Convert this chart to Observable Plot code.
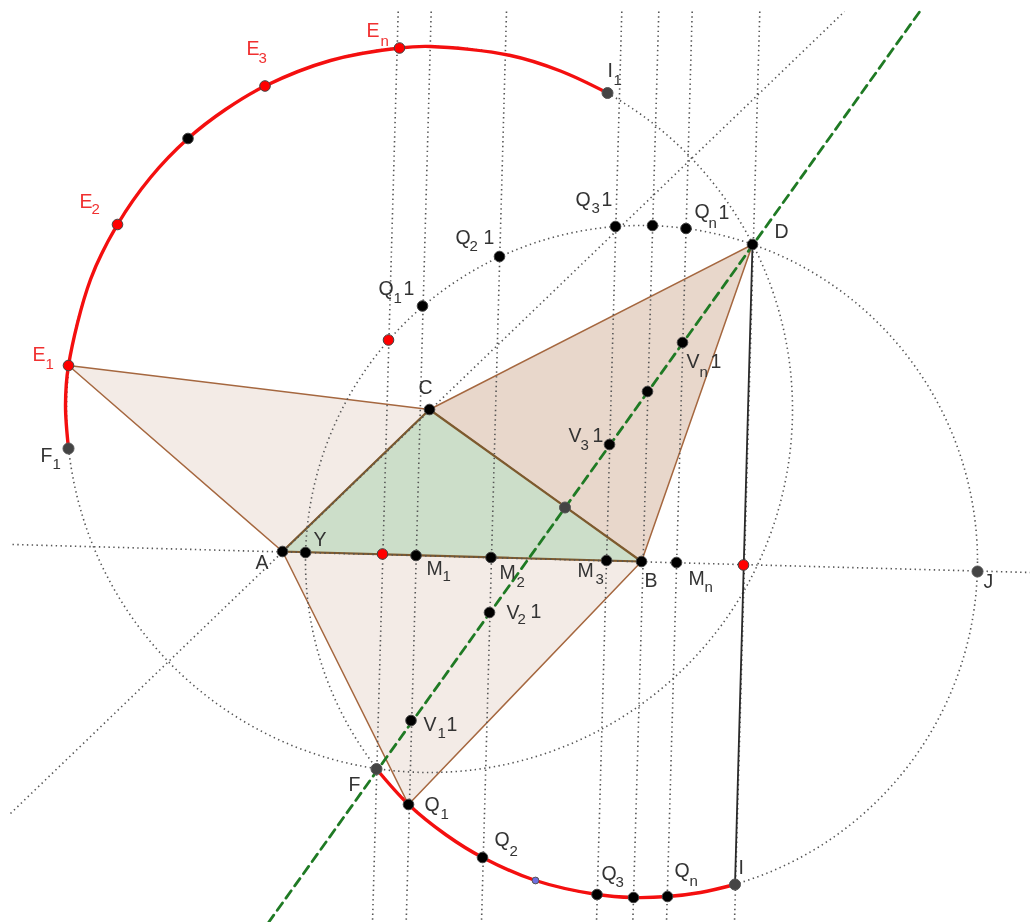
<!DOCTYPE html>
<html>
<head>
<meta charset="utf-8">
<style>html,body{margin:0;padding:0;background:#fff}svg{display:block}</style>
<script src="https://cdn.jsdelivr.net/npm/d3@7"></script>
<script src="https://cdn.jsdelivr.net/npm/@observablehq/plot@0.6"></script>
</head>
<body>
<script>
// Vertices
const triLeft = [[282,551],[429,409],[68,365],[282,551]];
const triLower = [[282,551],[641,561],[408,804],[282,551]];
const triRight = [[429,409],[752,244],[641,561],[429,409]];
const triCentre = [[282,551],[429,409],[641,561],[282,551]];

// Construction lines: [x1,y1,x2,y2]
const dottedLines = [
  [12,544,1030,572],
  [10,813,844,11],
  [397.7,11,372,922],
  [430.7,11,405.7,922],
  [506,11,481,922],
  [621.3,11,596,922],
  [658.3,11,632.3,922],
  [691.7,11,666,922],
  [759.3,11,734,922]
];
const greenLine = [[268,922],[920,10]];
const blackLine = [[752,244],[734.5,884]];

// Dotted circles: centre and radius
const circleOne = [[429,409]];
const circleOneRadius = 363;
const circleTwo = [[641,561]];
const circleTwoRadius = 336;

// Red arcs, waypoints
const upperArc = [[68,448],[65,405],[68,365],[90,279],[117,224],[150,177],[187.5,138],[225,109],[264.5,85.5],[330,60],[399,47.5],[430,46],[510,55],[560,70.5],[607,92.5]];
const lowerArc = [[376,768.5],[408,804],[445,834],[482,857],[535,880],[596.5,894],[633,897],[667,896],[700,892],[734.5,884]];

// Points
const blackPoints = [[282,551],[641,561],[429,409],[752,244],[187.5,138],[408,804],[482,857],[596.5,894],[633,897],[667,896],[415.5,555],[490.5,557],[606,560],[676,562],[305,552],[422,305.5],[499,256],[615,226],[652,225],[685.5,228],[609,444],[647,391],[682,342],[489,612],[410.5,720]];
const greyPoints = [[68,448],[607,92.5],[376,768.5],[734.5,884],[977,571],[564.5,507]];
const redPoints = [[68,365],[117,224],[264.5,85.5],[399,47.5],[382,553.5],[743,564.5],[388,339.5]];
const bluePoints = [[535,880]];

// Labels: [text, x, y]
const redMain = [["E",32,354.5],["E",79,201],["E",246,48],["E",366,30]];
const redSubs = [["1",45,364],["2",91,209],["3",258,58],["n",380,41]];
const darkMain = [
  ["Q",455,237],["1",483,237],["Q",378,288],["1",403,288],["C",418,387],["F",40,455],["I",607,70],
  ["Q",575,199],["1",601,199],["Q",694,211],["1",718,212],["D",774,231],["V",686,361],["1",710,361],
  ["V",568,435],["1",592,435],["Y",313,539],["A",255,562],["M",426,568],["M",499,572],["V",506,612],["1",530,611],
  ["V",423,724],["1",446,724],["F",348,784],["Q",424,804],["Q",494,839],["M",577,570],["B",644,580],
  ["M",688,578],["J",983,581],["Q",601,873],["Q",674,870],["I",738,867]
];
const darkSubs = [
  ["2",469,246],["1",393,298],["1",52,464],["1",613,80],["3",591,208],["n",708,223],["n",699,372],["3",580,445],
  ["1",442,576],["2",516,582],["2",517,619],["1",437,733],["1",440,814],["2",509,851],["3",595,579],["n",704,587],
  ["3",615,882],["n",689,881]
];

const brown = "#a5673f";
const xOf = d => d[0], yOf = d => d[1];
const dotted = {stroke:"#555", strokeWidth:1.6, strokeDasharray:"1.4 3.4"};
const polygon = (pts, fill, stroke, width) =>
  Plot.line(pts, {x:xOf, y:yOf, fill, stroke, strokeWidth:width, curve:"linear"});
const points = (pts, fill, stroke, r) =>
  Plot.dot(pts, {x:xOf, y:yOf, r, fill, stroke, strokeWidth:1});
const labels = (rows, fill, fontSize) =>
  Plot.text(rows, {x:d=>d[1], y:d=>d[2], text:d=>d[0], fill, fontSize, textAnchor:"start",
    fontFamily:"Liberation Sans, Arial, sans-serif"});

const chart = Plot.plot({
  width:1030, height:922, margin:0,
  x:{domain:[0,1030], range:[0,1030], axis:null},
  y:{domain:[0,922], range:[0,922], axis:null},
  style:{background:"#fff", filter:"blur(0.35px)"},
  marks:[
    polygon(triLeft, "#f3ebe6", brown, 1.5),
    polygon(triLower, "#f3ebe6", brown, 1.5),
    polygon(triRight, "#e8d7cb", brown, 1.5),
    polygon(triCentre, "#ccdec9", "#7d5a2e", 2.2),
    Plot.link(dottedLines, {x1:d=>d[0], y1:d=>d[1], x2:d=>d[2], y2:d=>d[3], ...dotted}),
    Plot.dot(circleOne, {x:xOf, y:yOf, r:circleOneRadius, fill:"none", ...dotted}),
    Plot.dot(circleTwo, {x:xOf, y:yOf, r:circleTwoRadius, fill:"none", ...dotted}),
    Plot.line(upperArc, {x:xOf, y:yOf, stroke:"#f40f0f", strokeWidth:3.4, curve:"catmull-rom"}),
    Plot.line(lowerArc, {x:xOf, y:yOf, stroke:"#f40f0f", strokeWidth:3.4, curve:"catmull-rom"}),
    Plot.line(greenLine, {x:xOf, y:yOf, stroke:"#1f7a24", strokeWidth:2.8, strokeDasharray:"9 6"}),
    Plot.line(blackLine, {x:xOf, y:yOf, stroke:"#2a2a2a", strokeWidth:1.8}),
    points(blackPoints, "#000", "#444", 5.3),
    points(greyPoints, "#444", "#555", 5.5),
    points(redPoints, "#f00", "#444", 5.3),
    points(bluePoints, "#6f6fe0", "#555", 3.4),
    labels(redMain, "#f03030", 19.5),
    labels(redSubs, "#f03030", 15),
    labels(darkMain, "#333", 19.5),
    labels(darkSubs, "#333", 15)
  ]
});
chart.style.display = "block";
document.body.appendChild(chart);
</script>
</body>
</html>
